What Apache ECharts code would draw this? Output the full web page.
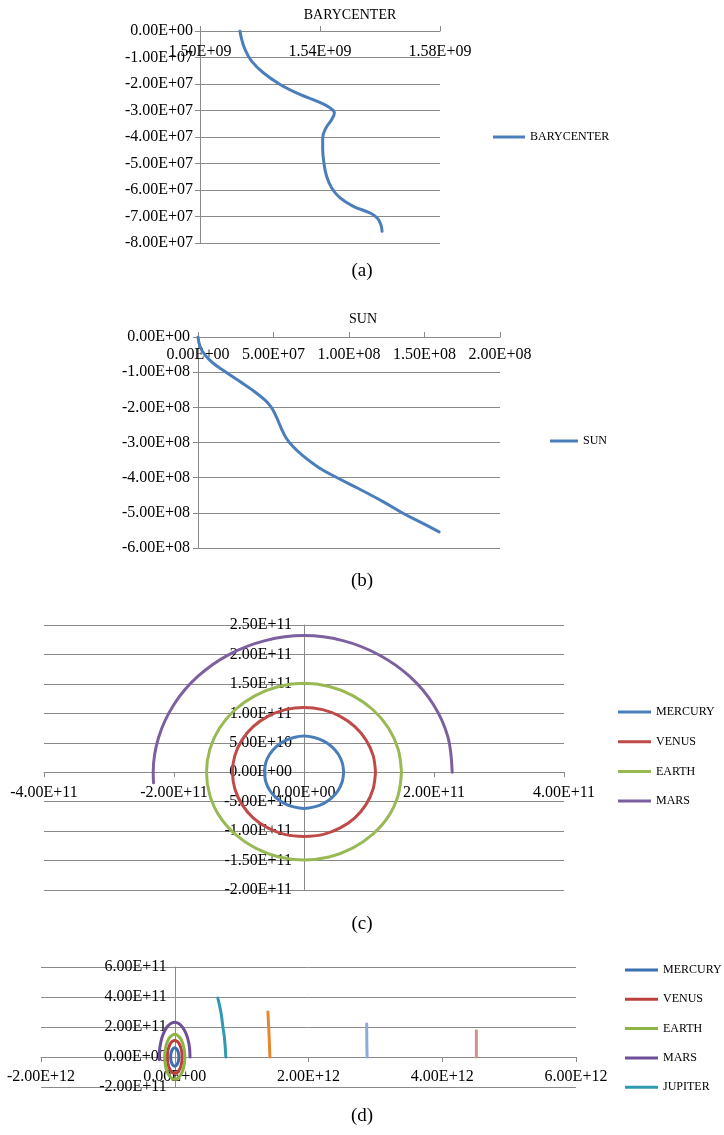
<!DOCTYPE html>
<html>
<head>
<meta charset="utf-8">
<script src="https://cdn.jsdelivr.net/npm/echarts@6/dist/echarts.min.js"></script>
<style>
  html, body { margin: 0; padding: 0; background: #ffffff; }
  #chart { width: 724px; height: 1135px; }
</style>
</head>
<body>
<div id="chart"></div>
<script>
// ---- (a) barycenter track: x and y positions ----
const baryX = [1.5133e9, 1.5139e9, 1.5150e9, 1.5172e9, 1.5211e9, 1.5267e9, 1.5333e9, 1.5389e9,
               1.5433e9, 1.5448e9, 1.5439e9, 1.5420e9, 1.5409e9, 1.5409e9, 1.5413e9, 1.5422e9,
               1.5439e9, 1.5467e9, 1.5511e9, 1.5567e9, 1.5591e9, 1.5603e9, 1.5607e9];
const baryY = [0, -3.15e6, -6.93e6, -1.134e7, -1.575e7, -2.016e7, -2.394e7, -2.646e7,
               -2.898e7, -3.087e7, -3.339e7, -3.654e7, -4.032e7, -4.473e7, -4.977e7, -5.481e7,
               -5.922e7, -6.30e7, -6.615e7, -6.867e7, -7.056e7, -7.308e7, -7.56e7];
const baryXTicks = [1.50e9, 1.54e9, 1.58e9];
const baryYTicks = [0, -1e7, -2e7, -3e7, -4e7, -5e7, -6e7, -7e7, -8e7];

// ---- (b) sun track ----
const sunX = [0, 1.32e6, 4.41e6, 9.91e6, 1.762e7, 2.753e7, 3.634e7, 4.405e7, 4.846e7, 5.176e7,
              5.507e7, 5.837e7, 6.277e7, 6.938e7, 8.039e7, 9.251e7, 1.0683e8, 1.2224e8,
              1.3546e8, 1.4757e8, 1.5969e8];
const sunY = [0, -2.65e7, -5.02e7, -7.39e7, -9.76e7, -1.261e8, -1.517e8, -1.782e8, -1.991e8, -2.256e8,
              -2.588e8, -2.872e8, -3.109e8, -3.375e8, -3.725e8, -4.01e8, -4.322e8, -4.673e8,
              -5.005e8, -5.27e8, -5.542e8];
const sunXTicks = [0, 5e7, 1e8, 1.5e8, 2e8];
const sunYTicks = [0, -1e8, -2e8, -3e8, -4e8, -5e8, -6e8];

// ---- (c)/(d) inner planet orbits, [x, y] ----
const mercuryOrbit = [
  [6.1e10, 0], [5.89e10, 1.58e10], [5.28e10, 3.05e10], [4.31e10, 4.31e10], [3.05e10, 5.28e10], [1.58e10, 5.89e10],
  [0, 6.15e10], [-1.58e10, 5.89e10], [-3.05e10, 5.28e10], [-4.31e10, 4.31e10], [-5.28e10, 3.05e10], [-5.89e10, 1.58e10],
  [-6.05e10, 0], [-5.89e10, -1.58e10], [-5.28e10, -3.05e10], [-4.31e10, -4.31e10], [-3.05e10, -5.28e10], [-1.58e10, -5.89e10],
  [0, -6.15e10], [1.58e10, -5.89e10], [3.05e10, -5.28e10], [4.31e10, -4.31e10], [5.28e10, -3.05e10], [5.89e10, -1.58e10],
  [6.1e10, 0]];
const venusOrbit = [
  [1.10e11, 0], [1.063e11, 2.85e10], [9.53e10, 5.5e10], [7.78e10, 7.78e10], [5.5e10, 9.53e10], [2.85e10, 1.063e11],
  [0, 1.10e11], [-2.85e10, 1.063e11], [-5.5e10, 9.53e10], [-7.78e10, 7.78e10], [-9.53e10, 5.5e10], [-1.063e11, 2.85e10],
  [-1.10e11, 0], [-1.063e11, -2.85e10], [-9.53e10, -5.5e10], [-7.78e10, -7.78e10], [-5.5e10, -9.5e10], [-2.85e10, -1.06e11],
  [0, -1.09e11], [2.85e10, -1.06e11], [5.5e10, -9.5e10], [7.78e10, -7.78e10], [9.53e10, -5.5e10], [1.063e11, -2.85e10],
  [1.10e11, 0]];
const earthOrbit = [
  [1.50e11, 0], [1.449e11, 3.88e10], [1.299e11, 7.5e10], [1.061e11, 1.061e11], [7.5e10, 1.30e11], [3.9e10, 1.455e11],
  [0, 1.51e11], [-3.9e10, 1.455e11], [-7.5e10, 1.30e11], [-1.061e11, 1.061e11], [-1.299e11, 7.5e10], [-1.449e11, 3.88e10],
  [-1.50e11, 0], [-1.449e11, -3.88e10], [-1.299e11, -7.5e10], [-1.055e11, -1.055e11], [-7.45e10, -1.29e11], [-3.86e10, -1.44e11],
  [0, -1.49e11], [3.86e10, -1.44e11], [7.45e10, -1.29e11], [1.055e11, -1.055e11], [1.299e11, -7.5e10], [1.449e11, -3.88e10],
  [1.50e11, 0]];
const marsOrbit = [
  [2.28e11, 0], [2.215e11, 5.95e10], [1.99e11, 1.15e11], [1.626e11, 1.626e11], [1.15e11, 1.995e11], [5.97e10, 2.235e11],
  [0, 2.32e11], [-5.97e10, 2.235e11], [-1.155e11, 1.998e11], [-1.63e11, 1.63e11], [-1.998e11, 1.155e11], [-2.235e11, 5.97e10],
  [-2.32e11, 0], [-2.315e11, -1.8e10]];
const innerXTicks = [-4e11, -2e11, 0, 2e11, 4e11];
const innerYTicks = [-2e11, -1.5e11, -1e11, -5e10, 0, 5e10, 1e11, 1.5e11, 2e11, 2.5e11];

// ---- (d) outer planet arcs ----
const jupiterArc = [[7.64e11, 0], [7.45e11, 1.2e11], [7.2e11, 2.0e11], [6.9e11, 3.0e11], [6.44e11, 3.93e11]];
const saturnArc = [[1.423e12, 0], [1.41e12, 1.5e11], [1.393e12, 3.0e11]];
const uranusArc = [[2.876e12, 0], [2.872e12, 1.1e11], [2.87e12, 2.2e11]];
const neptuneArc = [[4.51e12, 0], [4.51e12, 0.9e11], [4.51e12, 1.75e11]];
const outerXTicks = [-2e12, 0, 2e12, 4e12, 6e12];
const outerYTicks = [-2e11, 0, 2e11, 4e11, 6e11];

const innerNames = ['MERCURY', 'VENUS', 'EARTH', 'MARS'];
const outerNames = ['MERCURY', 'VENUS', 'EARTH', 'MARS', 'JUPITER', 'SATURN', 'URANUS', 'NEPTUNE'];
const outerLegendNames = ['MERCURY', 'VENUS', 'EARTH', 'MARS', 'JUPITER'];

const innerColors = ['#4a7ebb', '#be4b48', '#98b954', '#7d60a0'];
const outerColors = ['#3b6faf', '#bb403c', '#8cb343', '#6f4e98', '#3199b4', '#e6862f', '#8eabd8', '#d58f8c'];

const GRAY = '#8a8a8a';
const FONT = 'Liberation Serif';

// plot rectangles of the four panels
const grids = [
  { left: 200, top: 31, width: 240, height: 212 },
  { left: 198, top: 337, width: 302, height: 211 },
  { left: 44, top: 625, width: 520, height: 265 },
  { left: 41, top: 967, width: 535, height: 120 }
];

function sci(v) {
  const parts = Number(v).toExponential(2).split('e');
  const sign = parts[1][0] === '-' ? '-' : '+';
  const digits = parts[1].replace(/^[+-]/, '').padStart(2, '0');
  return parts[0] + 'E' + sign + digits;
}

function pairs(xs, ys) { return xs.map((x, i) => [x, ys[i]]); }

// shift that puts an axis on the zero line of the crossing axis
function zeroShift(lengthPx, crossTicks) {
  const mn = Math.min.apply(null, crossTicks), mx = Math.max.apply(null, crossTicks);
  return -lengthPx * (0 - mn) / (mx - mn);
}

function axis(gridIndex, ticks, o) {
  const spec = {
    type: 'value',
    gridIndex: gridIndex,
    min: Math.min.apply(null, ticks),
    max: Math.max.apply(null, ticks),
    position: o.position,
    offset: o.offset || 0,
    axisLine: { show: true, onZero: false, lineStyle: { color: GRAY, width: 1 } },
    axisTick: { show: true, length: 5, inside: false, customValues: ticks, lineStyle: { color: GRAY, width: 1 } },
    axisLabel: {
      customValues: ticks, formatter: sci, inside: !!o.labelInside, margin: o.margin,
      color: '#000', fontFamily: FONT, fontSize: 16
    },
    splitLine: { show: !!o.split, lineStyle: { color: GRAY, width: 1 } }
  };
  if (o.interval) spec.interval = o.interval;
  return spec;
}

function lineSeries(name, data, xi, color, smooth) {
  return {
    type: 'line', name: name, xAxisIndex: xi, yAxisIndex: xi, data: data,
    smooth: smooth, symbol: 'none', clip: true,
    lineStyle: { width: 3, color: color, cap: 'round' },
    itemStyle: { color: color },
    emphasis: { disabled: true }
  };
}

const legendText = { fontFamily: FONT, fontSize: 12, color: '#000', lineHeight: 16 };
function legend(left, top, width, gap, data) {
  return {
    orient: 'vertical', left: left, top: top, icon: 'rect', itemWidth: width, itemHeight: 3,
    itemGap: gap, padding: 0, selectedMode: false, textStyle: legendText, data: data
  };
}

function title(text, x, top, size) {
  return {
    text: text, left: x, top: top, textAlign: 'center', padding: 0,
    textStyle: { fontFamily: FONT, fontSize: size, fontWeight: 'normal', color: '#000' }
  };
}

const chart = echarts.init(document.getElementById('chart'), null, { renderer: 'canvas', width: 724, height: 1135 });

const innerOrbits = [mercuryOrbit, venusOrbit, earthOrbit, marsOrbit];
const outerOrbits = [mercuryOrbit, venusOrbit, earthOrbit, marsOrbit, jupiterArc, saturnArc, uranusArc, neptuneArc];

const series = [
  lineSeries('BARYCENTER', pairs(baryX, baryY), 0, '#4a7ebb', 0.4),
  lineSeries('SUN', pairs(sunX, sunY), 1, '#4a7ebb', 0.4)
];
innerOrbits.forEach((d, i) => series.push(lineSeries(innerNames[i], d, 2, innerColors[i], 0.35)));
outerOrbits.forEach((d, i) => series.push(lineSeries(outerNames[i], d, 3, outerColors[i], i < 4 ? 0.35 : 0.4)));

chart.setOption({
  animation: false,
  backgroundColor: '#ffffff',
  title: [
    title('BARYCENTER', 350, 8, 14),
    title('SUN', 363, 312, 14),
    title('(a)', 362, 262, 19),
    title('(b)', 362, 572, 19),
    title('(c)', 362, 915, 19),
    title('(d)', 362, 1107, 19)
  ],
  grid: grids.map(g => Object.assign({ outerBoundsMode: 'none' }, g)),
  xAxis: [
    axis(0, baryXTicks, { position: 'top', labelInside: true, margin: 12.5 }),
    axis(1, sunXTicks, { position: 'top', labelInside: true, margin: 10, interval: 5e7 }),
    axis(2, innerXTicks, { position: 'bottom', margin: 13, interval: 2e11,
                           offset: zeroShift(grids[2].height, innerYTicks) }),
    axis(3, outerXTicks, { position: 'bottom', margin: 12, interval: 2e12,
                           offset: zeroShift(grids[3].height, outerYTicks) })
  ],
  yAxis: [
    axis(0, baryYTicks, { position: 'left', margin: 7, split: true, interval: 1e7 }),
    axis(1, sunYTicks, { position: 'left', margin: 8, split: true, interval: 1e8 }),
    axis(2, innerYTicks, { position: 'left', margin: 12, split: true, interval: 5e10,
                           offset: zeroShift(grids[2].width, innerXTicks) }),
    axis(3, outerYTicks, { position: 'left', margin: 8, split: true, interval: 2e11,
                           offset: zeroShift(grids[3].width, outerXTicks) })
  ],
  legend: [
    legend(493, 129, 32, 10, ['BARYCENTER']),
    legend(550, 433, 28, 10, ['SUN']),
    legend(618, 704, 33, 13.7, innerNames),
    legend(625, 962, 33, 13.3, outerLegendNames.map((n, i) => ({ name: n, itemStyle: { color: outerColors[i] } })))
  ],
  series: series
});
</script>
</body>
</html>
